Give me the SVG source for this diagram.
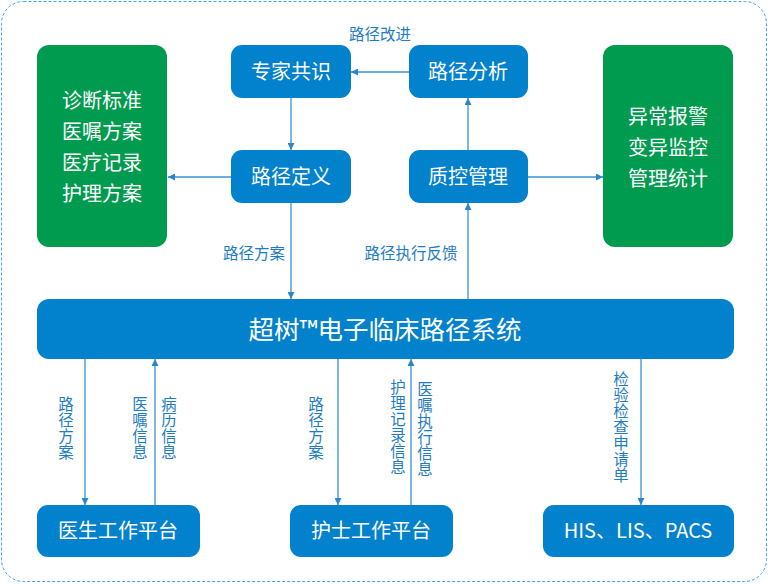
<svg xmlns="http://www.w3.org/2000/svg" width="770" height="584" viewBox="0 0 770 584">
<style>
.blue{fill:#0281CC}
.green{fill:#009B4E}
.bt{font-family:"Noto Sans CJK SC","Liberation Sans",sans-serif;fill:#fff;text-anchor:middle;dominant-baseline:central;font-size:20px}
.lbl{font-family:"Noto Sans CJK SC","Liberation Sans",sans-serif;fill:#1E7CC3;font-size:15.5px;text-anchor:middle;dominant-baseline:central}
.vl{font-family:"Noto Sans CJK SC","Liberation Sans",sans-serif;fill:#1E7CC3;font-size:15.5px;writing-mode:vertical-rl;text-anchor:start;letter-spacing:0.5px}
.ln{stroke:#3A91D4;stroke-width:1.3;fill:none;marker-end:url(#ah)}
</style>
<defs>
<marker id="ah" viewBox="0 0 10 10" refX="10" refY="5" markerWidth="7" markerHeight="7" markerUnits="userSpaceOnUse" orient="auto">
<path d="M0,0 L10,5 L0,10 z" fill="#2A85CC"/>
</marker>
</defs>
<rect x="1.5" y="1.5" width="765" height="580" rx="22" fill="#fff" stroke="#3DA7E2" stroke-width="1" stroke-dasharray="3,2"/>

<g id="connectors">
<line class="ln" x1="409" y1="72" x2="351" y2="72"/>
<line class="ln" x1="291" y1="98" x2="291" y2="150"/>
<line class="ln" x1="468" y1="150" x2="468" y2="98"/>
<line class="ln" x1="231" y1="177" x2="168" y2="177"/>
<line class="ln" x1="528" y1="177" x2="603" y2="177"/>
<line class="ln" x1="291" y1="203" x2="291" y2="299"/>
<line class="ln" x1="468" y1="299" x2="468" y2="203"/>
<line class="ln" x1="85" y1="359" x2="85" y2="505"/>
<line class="ln" x1="155" y1="505" x2="155" y2="359"/>
<line class="ln" x1="338" y1="359" x2="338" y2="505"/>
<line class="ln" x1="411" y1="505" x2="411" y2="359"/>
<line class="ln" x1="641" y1="359" x2="641" y2="505"/>
<text class="lbl" x="380" y="33">路径改进</text>
<text class="lbl" x="254" y="252">路径方案</text>
<text class="lbl" x="411" y="252">路径执行反馈</text>
<text class="vl" x="66" y="396">路径方案</text>
<text class="vl" x="140" y="396">医嘱信息</text>
<text class="vl" x="169" y="396">病历信息</text>
<text class="vl" x="316" y="396">路径方案</text>
<text class="vl" x="398" y="379">护理记录信息</text>
<text class="vl" x="425" y="381">医嘱执行信息</text>
<text class="vl" x="621" y="371">检验检查申请单</text>
</g>

<g id="left-green">
<rect class="green" x="37" y="45" width="130" height="202" rx="12"/>
<text class="bt" x="102" y="99">诊断标准</text>
<text class="bt" x="102" y="130">医嘱方案</text>
<text class="bt" x="102" y="161">医疗记录</text>
<text class="bt" x="102" y="192">护理方案</text>
</g>
<g id="right-green">
<rect class="green" x="603" y="45" width="130" height="202" rx="12"/>
<text class="bt" x="668" y="115">异常报警</text>
<text class="bt" x="668" y="146">变异监控</text>
<text class="bt" x="668" y="177">管理统计</text>
</g>
<g id="zhuanjia">
<rect class="blue" x="231" y="45" width="120" height="53" rx="11"/>
<text class="bt" x="291" y="70">专家共识</text>
</g>
<g id="fenxi">
<rect class="blue" x="409" y="45" width="119" height="53" rx="11"/>
<text class="bt" x="468" y="70">路径分析</text>
</g>
<g id="dingyi">
<rect class="blue" x="231" y="150" width="120" height="53" rx="11"/>
<text class="bt" x="291" y="175">路径定义</text>
</g>
<g id="zhikong">
<rect class="blue" x="409" y="150" width="119" height="53" rx="11"/>
<text class="bt" x="468" y="175">质控管理</text>
</g>
<g id="system">
<rect class="blue" x="37" y="299" width="697" height="60" rx="12"/>
<text class="bt" x="385" y="327" style="font-size:25.5px">超树™电子临床路径系统</text>
</g>
<g id="doctor">
<rect class="blue" x="37" y="505" width="163" height="52" rx="11"/>
<text class="bt" x="118" y="529">医生工作平台</text>
</g>
<g id="nurse">
<rect class="blue" x="290" y="505" width="163" height="52" rx="11"/>
<text class="bt" x="371" y="529">护士工作平台</text>
</g>
<g id="his">
<rect class="blue" x="543" y="505" width="191" height="52" rx="11"/>
<text class="bt" x="638" y="529">HIS、LIS、PACS</text>
</g>
</svg>
